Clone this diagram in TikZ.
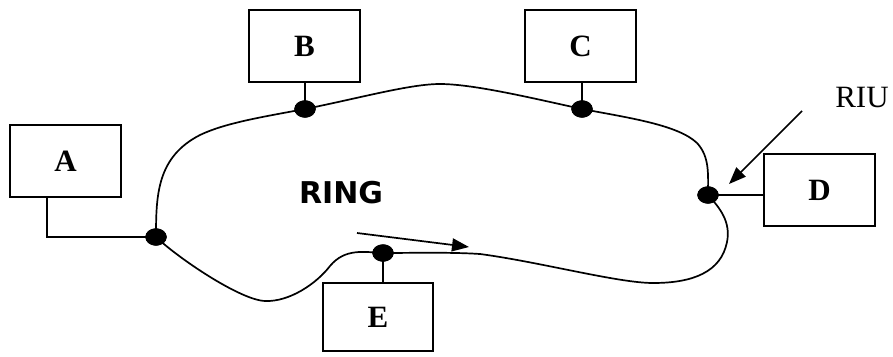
\documentclass[tikz,border=0pt]{standalone}
\usepackage{fontspec}
\setmainfont{Liberation Serif}
\newfontfamily\ringfont{DejaVu Sans}
\usetikzlibrary{shapes.geometric,arrows.meta}
\tikzset{
  box/.style={draw, line width=1.7pt, rectangle, inner sep=0pt, font=\fontsize{31}{36}\selectfont\bfseries},
  tap/.style={ellipse, fill=black, draw=black, minimum width=21pt, minimum height=17pt, inner sep=0pt},
  wire/.style={line width=1.7pt},
  pointer/.style={line width=1.7pt, -{Triangle[length=17pt,width=13pt]}},
}
\begin{document}
\begin{tikzpicture}[x=1pt,y=-1pt]
\useasboundingbox (0,0) rectangle (893,356);
% boxes
\node[box, minimum width=111pt, minimum height=72pt] (boxA) at (65.5,161) {A};
\node[box, minimum width=111pt, minimum height=72pt] (boxB) at (304.5,46) {B};
\node[box, minimum width=111pt, minimum height=72pt] (boxC) at (580.5,46) {C};
\node[box, minimum width=111pt, minimum height=72pt] (boxD) at (819.5,190) {D};
\node[box, minimum width=110pt, minimum height=68pt] (boxE) at (378,317) {E};
% taps
\node[tap] (dA) at (156,237) {};
\node[tap] (dB) at (305,109) {};
\node[tap] (dC) at (582,109) {};
\node[tap] (dD) at (708,195) {};
\node[tap] (dE) at (383,253) {};
% ring
\draw[wire, line join=round] (dA.center)
  .. controls (156,195) and (157,157) .. (200,135)
  .. controls (225,123) and (262,117) .. (dB.center)
  .. controls (360,98) and (410,84) .. (440,84)
  .. controls (475,84) and (540,100) .. (dC.center)
  .. controls (630,118) and (678,125) .. (697,143)
  .. controls (710,157) and (708,175) .. (dD.center)
  .. controls (720,208) and (731,222) .. (727,242)
  .. controls (721,272) and (693,283) .. (653,283)
  .. controls (618,283) and (540,262) .. (480,254)
  .. controls (450,252) and (410,253) .. (dE.center)
  .. controls (364,252) and (345,248) .. (330,266)
  .. controls (317,283) and (290,302) .. (265,301)
  .. controls (240,300) and (178,258) .. (dA.center);
% connectors
\draw[wire] ([xshift=38pt]boxA.south west) |- (dA.center);
\draw[wire] (dB.center) -- (dB |- boxB.south);
\draw[wire] (dC.center) -- (dC |- boxC.south);
\draw[wire] (dD.center) -- (dD -| boxD.west);
\draw[wire] (dE.center) -- (dE |- boxE.north);
% redraw taps on top
\fill (dA) ellipse [x radius=10.5pt, y radius=8.5pt];
\fill (dB) ellipse [x radius=10.5pt, y radius=8.5pt];
\fill (dC) ellipse [x radius=10.5pt, y radius=8.5pt];
\fill (dD) ellipse [x radius=10.5pt, y radius=8.5pt];
\fill (dE) ellipse [x radius=10.5pt, y radius=8.5pt];
% labels
\node[font=\ringfont\bfseries\fontsize{30}{36}\selectfont] (ring) at (341,193) {RING};
\node[font=\fontsize{31}{36}\selectfont, anchor=base] (riu) at (862,107) {RIU};
% arrows
\coordinate (riuS) at (802,111);
\coordinate (riuT) at (729,184);
\draw[pointer] (riuS) -- (riuT);
\coordinate (flowS) at (357,233);
\coordinate (flowT) at (469,247);
\draw[pointer] (flowS) -- (flowT);
\end{tikzpicture}
\end{document}
